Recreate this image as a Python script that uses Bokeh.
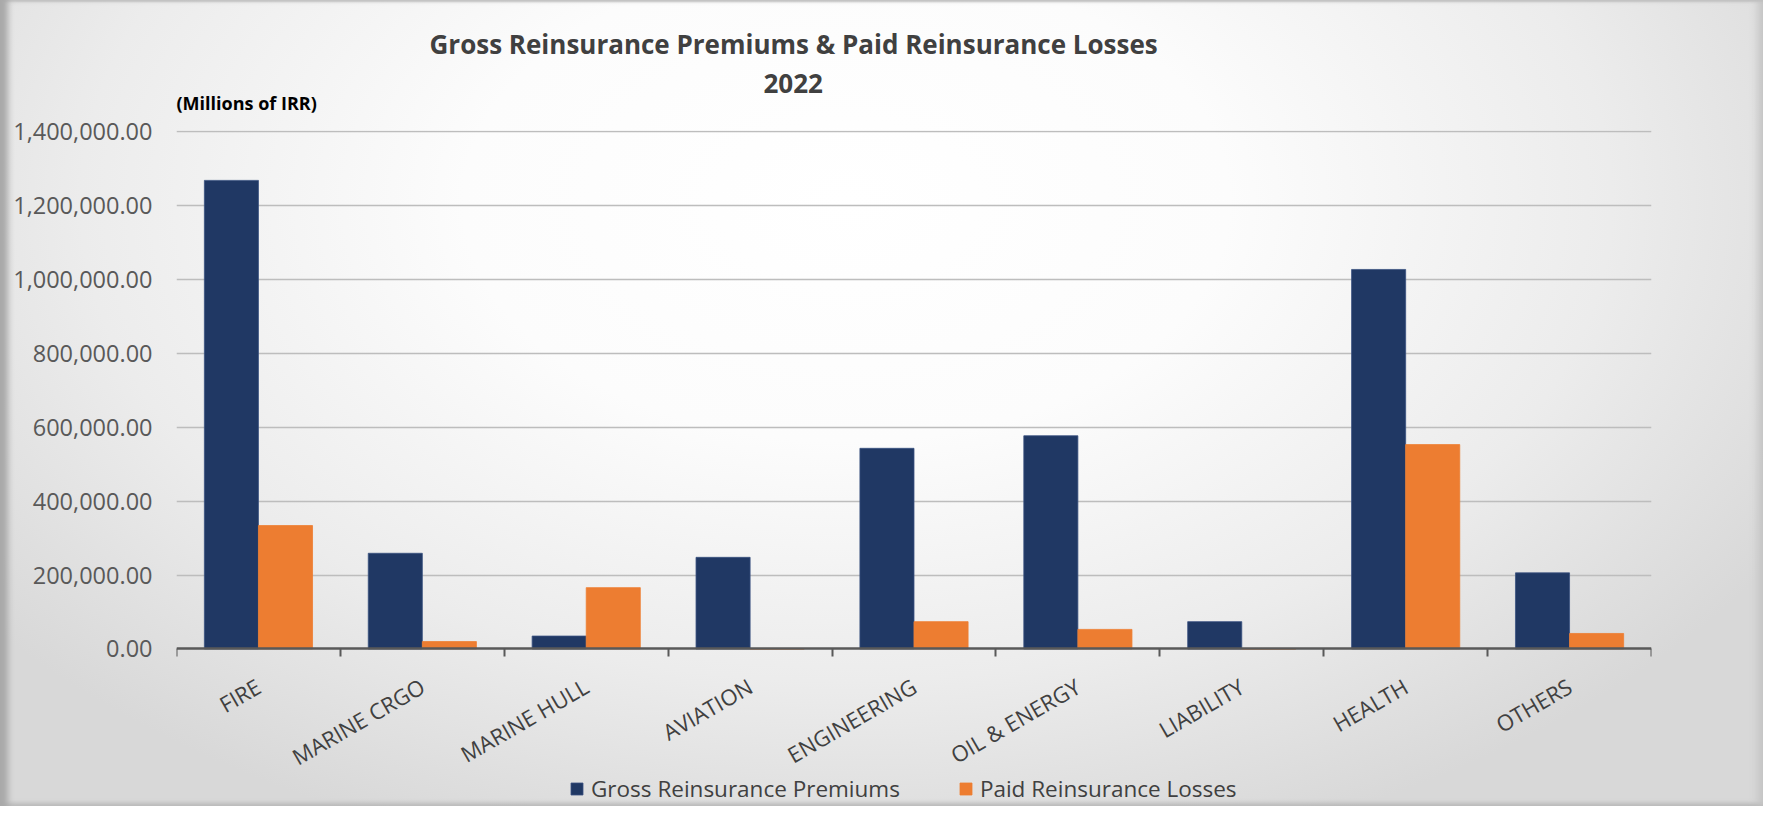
import math
from bokeh.plotting import figure
from bokeh.models import (ColumnDataSource, Range1d, LinearAxis, Title,
                          FixedTicker, NumeralTickFormatter, Legend, LegendItem,
                          CustomJSTickFormatter)
from bokeh.embed import file_html
from bokeh.resources import INLINE

# ---- data (Millions of IRR) ----
categories = ["FIRE", "MARINE CRGO", "MARINE HULL", "AVIATION", "ENGINEERING",
              "OIL & ENERGY", "LIABILITY", "HEALTH", "OTHERS"]
gross_premiums = [1268000, 259000, 35000, 248000, 543000, 577000, 74000, 1027000, 206000]
paid_losses = [334000, 20000, 166000, 0, 74000, 53000, 0, 553000, 42000]
y_ticks = [0, 200000, 400000, 600000, 800000, 1000000, 1200000, 1400000]
series_names = ["Gross Reinsurance Premiums", "Paid Reinsurance Losses"]
title_line1 = "Gross Reinsurance Premiums & Paid Reinsurance Losses"
title_line2 = "2022"
unit_label = "(Millions of IRR)"

NAVY = "#203864"
ORANGE = "#ED7D31"

n = len(categories)
idx = list(range(n))
src = ColumnDataSource(dict(
    cat=categories, gross=gross_premiums, paid=paid_losses,
    xg=[i + 0.5 - 0.165 for i in idx], xp=[i + 0.5 + 0.165 for i in idx]))

# the frame reaches the bottom of the canvas so that the category labels and
# the legend (drawn below the zero line) stay inside it
p = figure(width=1763, height=806, title=None,
           x_range=Range1d(0, n), y_range=Range1d(-426240, 1403000),
           output_backend="svg", toolbar_location=None,
           x_axis_location=None,
           min_border_left=176, min_border_right=112,
           min_border_top=130, min_border_bottom=0)

p.border_fill_color = None
p.background_fill_color = None
p.outline_line_color = None
p.styles = {
    "background": "radial-gradient(ellipse 62% 85% at 48% 25%, #ffffff 0%, #fcfcfc 35%, #ececec 70%, #d8d8d8 100%)",
    "box-shadow": "inset 11px 0 6px -3px #a9a9a9, inset -8px 0 8px -3px #c4c4c4, inset 0 -5px 4px -2px #bdbdbd, inset 0 3px 2px -1px #c8c8c8",
}

# bars
w = 0.33
r1 = p.vbar(x="xg", top="gross", width=w, source=src,
            fill_color=NAVY, line_color="#3a5280", line_width=0.8)
r2 = p.vbar(x="xp", top="paid", width=w, source=src,
            fill_color=ORANGE, line_color=ORANGE, line_width=0.8)

# y axis
p.yaxis.ticker = FixedTicker(ticks=y_ticks)
p.yaxis.formatter = NumeralTickFormatter(format="0,0.00")
p.yaxis.axis_line_color = None
p.yaxis.major_tick_line_color = None
p.yaxis.minor_tick_line_color = None
p.yaxis.major_label_text_font = "Open Sans"
p.yaxis.major_label_text_font_size = "23.5px"
p.yaxis.major_label_text_color = "#595959"
p.yaxis.major_label_standoff = 18

p.ygrid.ticker = FixedTicker(ticks=y_ticks[1:])
p.ygrid.grid_line_color = "#bdbdbd"
p.ygrid.grid_line_width = 1.6
p.xgrid.visible = False

# x axis line at zero with ticks at category boundaries
tick_axis = LinearAxis(ticker=FixedTicker(ticks=[float(i) for i in range(n + 1)]),
                       formatter=CustomJSTickFormatter(code="return ''"),
                       fixed_location=0,
                       major_tick_in=0, major_tick_out=8,
                       major_tick_line_width=2, major_tick_line_color="#595959",
                       minor_tick_line_color=None,
                       axis_line_color="#595959", axis_line_width=2.5,
                       major_label_standoff=0, major_label_text_font_size="1px")
p.add_layout(tick_axis, "below")

cat_axis = LinearAxis(ticker=FixedTicker(ticks=[i + 0.5 for i in idx]),
                      formatter=CustomJSTickFormatter(args=dict(cats=categories),
                                                      code="return cats[Math.floor(tick)] || ''"),
                      fixed_location=0,
                      axis_line_color=None, major_tick_line_color=None,
                      major_tick_out=0, major_tick_in=0,
                      minor_tick_line_color=None,
                      major_label_orientation=math.radians(30),
                      major_label_text_font="Open Sans",
                      major_label_text_font_size="22px",
                      major_label_text_color="#404040",
                      major_label_standoff=35)
p.add_layout(cat_axis, "below")

legend = Legend(items=[LegendItem(label=series_names[0], renderers=[r1]),
                       LegendItem(label=series_names[1], renderers=[r2])],
                orientation="horizontal", location=(393, 2),
                glyph_width=15, glyph_height=15, label_standoff=7, spacing=58,
                label_text_font="Open Sans", label_text_font_size="22.5px",
                label_text_color="#404040", padding=0, margin=0,
                background_fill_alpha=0, border_line_color=None)
p.add_layout(legend, "center")

# titles (nearest to the frame first)
p.add_layout(Title(text=unit_label, align="left", offset=0, standoff=30.5,
                   text_font="Open Sans", text_font_style="bold",
                   text_font_size="18px", text_color="#000000"), "above")
p.add_layout(Title(text=title_line2, align="left", offset=587, standoff=-39.5,
                   text_font="Open Sans", text_font_style="bold",
                   text_font_size="26px", text_color="#404040"), "above")
p.add_layout(Title(text=title_line1, align="left", offset=253, standoff=24,
                   text_font="Open Sans", text_font_style="bold",
                   text_font_size="26px", text_color="#404040"), "above")

open("out.html", "w").write(file_html(p, INLINE))
